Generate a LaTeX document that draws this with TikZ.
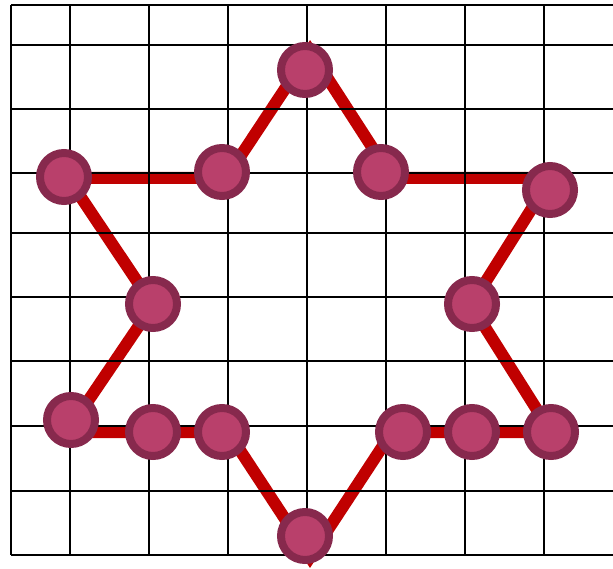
\documentclass[tikz,border=0pt]{standalone}
\definecolor{starred}{HTML}{C00000}
\definecolor{dotring}{HTML}{87294D}
\definecolor{dotfill}{HTML}{B9406B}
\tikzset{
  dot/.style={circle,draw=dotring,fill=dotfill,line width=8pt,minimum size=48pt,inner sep=0pt},
  gridline/.style={black,line width=2pt}
}
\begin{document}
\begin{tikzpicture}[x=1pt,y=-1pt]
  \useasboundingbox (0,0) rectangle (613,569);
  \clip (0,0) rectangle (613,569);
  % outline of the star
  \coordinate (top) at (310,51);
  \coordinate (innerUL) at (226,178);
  \coordinate (outerUL) at (68,178);
  \coordinate (innerL) at (153,305);
  \coordinate (outerLL) at (67,432);
  \coordinate (innerLL) at (228,432);
  \coordinate (bottom) at (310,557);
  \coordinate (innerLR) at (392,432);
  \coordinate (outerLR) at (551,432);
  \coordinate (innerR) at (471,305);
  \coordinate (outerUR) at (551,178);
  \coordinate (innerUR) at (392,178);
  \draw[starred,line width=12pt,miter limit=4]
    (top) -- (innerUL) -- (outerUL) -- (innerL) -- (outerLL) -- (innerLL)
    -- (bottom) -- (innerLR) -- (outerLR) -- (innerR) -- (outerUR) -- (innerUR) -- cycle;
  % grid
  \draw[gridline] (11,5) -- (613,5) (11,45) -- (613,45) (11,109) -- (613,109)
    (11,173) -- (613,173) (11,233) -- (613,233) (11,297) -- (613,297)
    (11,361) -- (613,361) (11,426) -- (613,426) (11,491) -- (613,491)
    (11,555) -- (613,555);
  \draw[gridline] (11,5) -- (11,555) (70,5) -- (70,555) (149,5) -- (149,555)
    (228,5) -- (228,555) (307,5) -- (307,555) (386,5) -- (386,555)
    (465,5) -- (465,555) (544,5) -- (544,555);
  % dots
  \node[dot] (dTop) at (305,70) {};
  \node[dot] (dUL1) at (222,172) {};
  \node[dot] (dUL2) at (64,177) {};
  \node[dot] (dL) at (153,304) {};
  \node[dot] (dUR1) at (381,172) {};
  \node[dot] (dUR2) at (550,190) {};
  \node[dot] (dR) at (472,304) {};
  \node[dot] (dLL1) at (71,420) {};
  \node[dot] (dLL2) at (153,432) {};
  \node[dot] (dLL3) at (222,432) {};
  \node[dot] (dBottom) at (305,536) {};
  \node[dot] (dLR1) at (403,432) {};
  \node[dot] (dLR2) at (472,432) {};
  \node[dot] (dLR3) at (551,432) {};
\end{tikzpicture}
\end{document}
